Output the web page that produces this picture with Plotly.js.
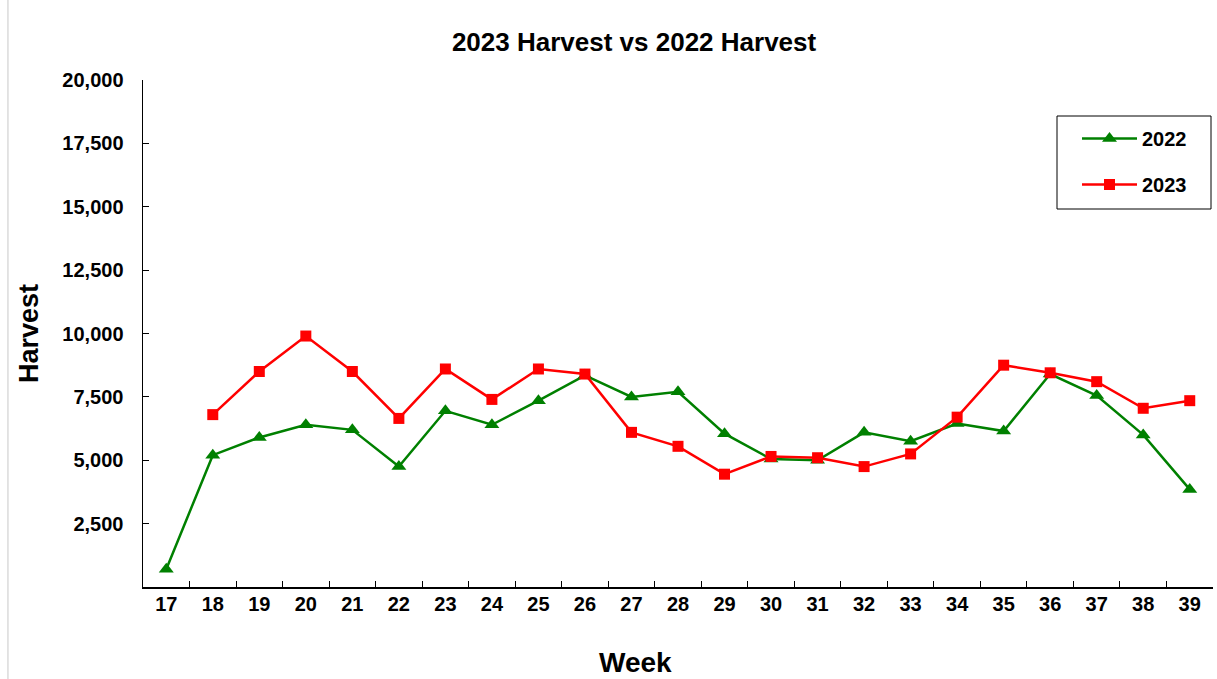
<!DOCTYPE html>
<html>
<head>
<meta charset="utf-8">
<script src="https://cdn.plot.ly/plotly-3.0.1.min.js"></script>
<style>html,body{margin:0;padding:0;background:#fff;}#chart{width:1217px;height:679px;}</style>
</head>
<body>
<div id="chart"></div>
<script>
const weeks = ["17","18","19","20","21","22","23","24","25","26","27","28","29","30","31","32","33","34","35","36","37","38","39"];
const harvest2022 = [700,5200,5900,6400,6200,4750,6950,6400,7350,8350,7500,7700,6050,5050,5000,6100,5750,6450,6150,8400,7550,6000,3850];
const weeks2023 = ["18","19","20","21","22","23","24","25","26","27","28","29","30","31","32","33","34","35","36","37","38","39"];
const harvest2023 = [6800,8500,9900,8500,6650,8600,7400,8600,8400,6100,5550,4450,5150,5100,4750,5250,6700,8750,8450,8100,7050,7350];
const yTickVals = [2500,5000,7500,10000,12500,15000,17500,20000];
const yTickText = ["2,500","5,000","7,500","10,000","12,500","15,000","17,500","20,000"];

const font = "Liberation Sans, Arial, sans-serif";
const traces = [
  {x: weeks, y: harvest2022, name: "2022", type: "scatter", mode: "lines+markers",
   legendgroup: "a",
   line: {color: "#008000", width: 2.5},
   marker: {symbol: "triangle-up", size: 13, color: "#008000"}},
  {x: weeks2023, y: harvest2023, name: "2023", type: "scatter", mode: "lines+markers",
   legendgroup: "b",
   line: {color: "#ff0000", width: 2.5},
   marker: {symbol: "square", size: 11, color: "#ff0000"}}
];
const layout = {
  width: 1217, height: 679,
  margin: {l: 143, r: 4, t: 80, b: 92},
  paper_bgcolor: "#fff", plot_bgcolor: "#fff",
  font: {family: font, color: "#000"},
  title: {text: "<b>2023 Harvest vs 2022 Harvest</b>", font: {size: 26, family: font, color: "#000"},
          xref: "container", x: 0.521, xanchor: "center", yref: "container", y: 0.938, yanchor: "middle"},
  xaxis: {
    type: "category", categoryorder: "array", categoryarray: weeks,
    range: [-0.5, 22.5],
    showgrid: false, zeroline: false,
    showline: true, linecolor: "#000", linewidth: 1.5,
    ticks: "inside", ticklen: 6, tickcolor: "#000", tickwidth: 1,
    tickson: "boundaries",
    tickfont: {size: 20, family: font, color: "#000", weight: "bold"},
    ticklabelstandoff: -2
  },
  yaxis: {
    range: [0, 20000],
    tickvals: yTickVals, ticktext: yTickText,
    showgrid: false, zeroline: false,
    showline: true, linecolor: "#000", linewidth: 1.5,
    ticks: "inside", ticklen: 6, tickcolor: "#000", tickwidth: 1,
    tickfont: {size: 20, family: font, color: "#000", weight: "bold"},
    ticklabelstandoff: 14,
    title: {text: "<b>Harvest</b>", font: {size: 27, family: font, color: "#000"}, standoff: 16}
  },
  annotations: [
    {text: "<b>Week</b>", xref: "paper", yref: "paper", x: (635 - 143) / 1070, y: (587 - 663) / 507,
     xanchor: "center", yanchor: "middle", showarrow: false,
     font: {size: 28, family: font, color: "#000"}}
  ],
  showlegend: true,
  legend: {
    x: (1077 - 143) / 1070, xanchor: "left", y: (587 - 119) / 507, yanchor: "top",
    bgcolor: "rgba(0,0,0,0)", borderwidth: 0,
    font: {size: 20, family: font, color: "#000", weight: "bold"},
    traceorder: "grouped", tracegroupgap: 17, itemwidth: 55
  },
  shapes: [
    {type: "line", xref: "paper", yref: "paper", x0: -0.1262, x1: -0.1262, y0: -0.182, y1: 1.158,
     line: {color: "#c8c8c8", width: 1}},
    {type: "rect", xref: "paper", yref: "paper", layer: "below",
     x0: (1057 - 143) / 1070, x1: (1211 - 143) / 1070, y0: (587 - 209) / 507, y1: (587 - 116) / 507,
     fillcolor: "#fff", line: {color: "#000", width: 1}}
  ]
};
Plotly.newPlot("chart", traces, layout, {displayModeBar: false, staticPlot: true});
</script>
</body>
</html>
